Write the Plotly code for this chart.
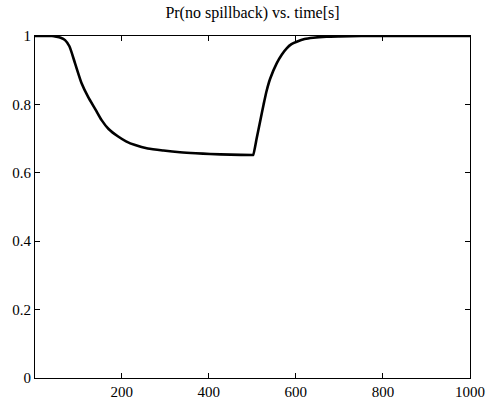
import plotly.graph_objects as go

time_s = [1, 20, 40, 50, 60, 70, 80, 93, 108, 123, 140, 154, 170, 192, 210, 231, 260, 296,
          334, 370, 403, 450, 500, 502, 510, 518, 526, 533, 541, 556, 568, 579, 590, 602,
          620, 640, 670, 700, 750, 800, 900, 1000]
pr_no_spillback = [1, 1, 1, 0.998, 0.995, 0.988, 0.97, 0.92, 0.862, 0.822, 0.785, 0.754, 0.728,
                   0.706, 0.692, 0.681, 0.671, 0.665, 0.66, 0.657, 0.655, 0.653, 0.652, 0.652,
                   0.70, 0.75, 0.80, 0.84, 0.875, 0.92, 0.946, 0.964, 0.976, 0.983, 0.991,
                   0.995, 0.998, 0.999, 1, 1, 1, 1]
x_ticks = [200, 400, 600, 800, 1000]
y_ticks = [0, 0.2, 0.4, 0.6, 0.8, 1]
y_tick_labels = ["0", "0.2", "0.4", "0.6", "0.8", "1"]
title = "Pr(no spillback) vs. time[s]"

FONT = "Liberation Serif, Times New Roman, Times, serif"

fig = go.Figure()
fig.add_trace(go.Scatter(x=time_s, y=pr_no_spillback, mode="lines",
                         line=dict(color="black", width=2.6, shape="spline", smoothing=0.6),
                         showlegend=False))

axis_common = dict(showgrid=False, zeroline=False, showline=True, linecolor="black",
                   linewidth=1, mirror="ticks", ticks="inside", ticklen=5,
                   tickcolor="black", tickwidth=1, automargin=False,
                   tickfont=dict(family=FONT, size=15, color="black"))

fig.update_xaxes(range=[1, 1000], tickvals=x_ticks, **axis_common)
fig.update_yaxes(range=[0, 1], tickvals=y_ticks, ticktext=y_tick_labels, **axis_common)

fig.update_layout(
    template="none",
    width=491, height=401, autosize=False,
    margin=dict(l=35, r=21, t=36, b=23, pad=0),
    paper_bgcolor="white", plot_bgcolor="white",
    font=dict(family=FONT, color="black"),
    title=dict(text=title, x=0.5, xref="paper", y=1, yref="container", yanchor="top",
               pad=dict(t=7), automargin=False,
               font=dict(family=FONT, size=16, color="black")),
)

fig.write_html("out.html",
               config={"displayModeBar": False, "responsive": False},
               post_script="document.body.style.margin='0';document.body.style.overflow='hidden';")
